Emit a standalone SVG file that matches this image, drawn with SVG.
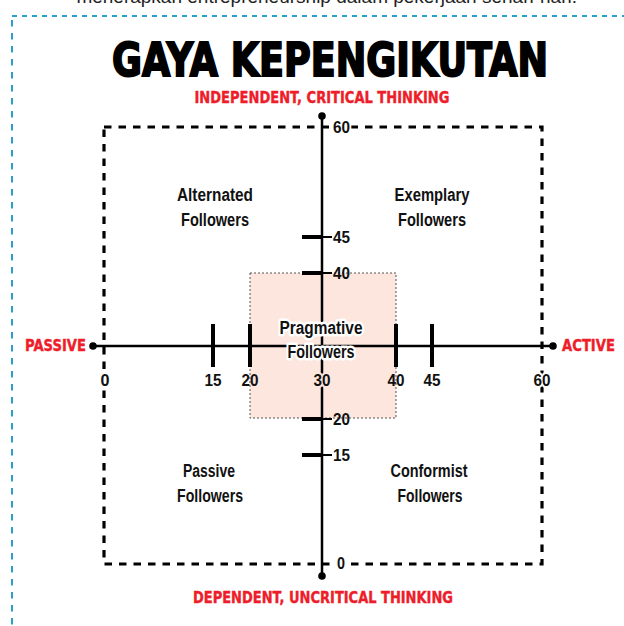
<svg xmlns="http://www.w3.org/2000/svg" width="624" height="626" viewBox="0 0 624 626">
<style>
.lbl{font-family:"Liberation Sans","DejaVu Sans",sans-serif;font-weight:bold;font-size:18px;fill:#111;text-anchor:middle}
.num{font-family:"Liberation Sans","DejaVu Sans",sans-serif;font-weight:bold;font-size:17px;fill:#111}
.red{font-family:"DejaVu Sans","Liberation Sans",sans-serif;font-weight:bold;font-size:15px;fill:#ee1d2a;stroke:#ee1d2a;stroke-width:0.4}
.tick{stroke:#000;stroke-width:4;stroke-linecap:butt}
.axis{stroke:#000;stroke-width:2.5;fill:none}
.halo{stroke:#fff;stroke-width:5;stroke-linejoin:round;paint-order:stroke}
.nh{stroke:#fff;stroke-width:4;stroke-linejoin:round;paint-order:stroke}
</style>
<rect width="624" height="626" fill="#fff"/>
<text x="577" y="3" text-anchor="end" font-family="'Liberation Sans',sans-serif" font-size="19" fill="#222">menerapkan entrepreneurship dalam pekerjaan sehari-hari.</text>
<g id="frame">
<line x1="12" y1="16" x2="624" y2="16" stroke="#2a9fcb" stroke-width="2" stroke-dasharray="5 5"/>
<line x1="12" y1="20" x2="12" y2="626" stroke="#2a9fcb" stroke-width="2" stroke-dasharray="6.5 6.5"/>
</g>
<g id="title">
<text x="330" y="76" text-anchor="middle" textLength="436" lengthAdjust="spacingAndGlyphs" font-family="'DejaVu Sans',sans-serif" font-weight="bold" font-size="46" fill="#000" stroke="#000" stroke-width="2">GAYA KEPENGIKUTAN</text>
</g>
<g id="pragmative-zone">
<rect x="250" y="273" width="146" height="145" fill="#fde6dd" stroke="#555" stroke-width="1" stroke-dasharray="2 2"/>
</g>
<g id="outer-box">
<rect x="104" y="127" width="438" height="437" fill="none" stroke="#000" stroke-width="3.2" stroke-dasharray="7.5 7"/>
</g>
<g id="connectors">
<line class="axis" x1="322" y1="116" x2="322" y2="576"/>
<line class="axis" x1="93" y1="346" x2="553" y2="346"/>
<circle cx="322" cy="116" r="3.8"/>
<circle cx="322" cy="576" r="3.8"/>
<circle cx="93" cy="346" r="3.8"/>
<circle cx="553" cy="346" r="3.8"/>
<line class="tick" x1="213" y1="324" x2="213" y2="367"/>
<line class="tick" x1="250" y1="324" x2="250" y2="367"/>
<line class="tick" x1="396" y1="324" x2="396" y2="367"/>
<line class="tick" x1="432" y1="324" x2="432" y2="367"/>
<line class="tick" x1="302" y1="237" x2="322" y2="237"/>
<line class="tick" x1="302" y1="273" x2="322" y2="273"/>
<line class="tick" x1="302" y1="419" x2="322" y2="419"/>
<line class="tick" x1="302" y1="455" x2="322" y2="455"/>
<g stroke="#000" stroke-width="2">
<line x1="322" y1="237" x2="332" y2="237"/>
<line x1="322" y1="273" x2="332" y2="273"/>
<line x1="322" y1="419" x2="332" y2="419"/>
<line x1="322" y1="455" x2="332" y2="455"/>
</g>
</g>
<g id="y-scale">
<text class="num nh" x="333" y="133" textLength="17" lengthAdjust="spacingAndGlyphs">60</text>
<text class="num" x="333" y="243" textLength="17" lengthAdjust="spacingAndGlyphs">45</text>
<text class="num" x="333" y="279" textLength="17" lengthAdjust="spacingAndGlyphs">40</text>
<text class="num" x="333" y="425" textLength="17" lengthAdjust="spacingAndGlyphs">20</text>
<text class="num" x="333" y="461" textLength="17" lengthAdjust="spacingAndGlyphs">15</text>
<text class="num nh" x="337" y="569" textLength="8" lengthAdjust="spacingAndGlyphs">0</text>
</g>
<g id="x-scale">
<text class="num nh" x="105" y="386" text-anchor="middle" textLength="9" lengthAdjust="spacingAndGlyphs">0</text>
<text class="num" x="213" y="386" text-anchor="middle" textLength="17" lengthAdjust="spacingAndGlyphs">15</text>
<text class="num" x="250" y="386" text-anchor="middle" textLength="17" lengthAdjust="spacingAndGlyphs">20</text>
<text class="num" x="322" y="386" text-anchor="middle" textLength="17" lengthAdjust="spacingAndGlyphs" stroke="#fde6dd" stroke-width="4" paint-order="stroke">30</text>
<text class="num" x="396" y="386" text-anchor="middle" textLength="17" lengthAdjust="spacingAndGlyphs">40</text>
<text class="num" x="432" y="386" text-anchor="middle" textLength="17" lengthAdjust="spacingAndGlyphs">45</text>
<text class="num nh" x="542" y="386" text-anchor="middle" textLength="17" lengthAdjust="spacingAndGlyphs">60</text>
</g>
<g id="top-label"><text class="red" x="322" y="103" text-anchor="middle" textLength="255" lengthAdjust="spacingAndGlyphs">INDEPENDENT, CRITICAL THINKING</text></g>
<g id="bottom-label"><text class="red" x="323" y="603" text-anchor="middle" textLength="260" lengthAdjust="spacingAndGlyphs">DEPENDENT, UNCRITICAL THINKING</text></g>
<g id="passive-label"><text class="red" x="86" y="351" text-anchor="end" textLength="61" lengthAdjust="spacingAndGlyphs">PASSIVE</text></g>
<g id="active-label"><text class="red" x="562" y="351" textLength="53" lengthAdjust="spacingAndGlyphs">ACTIVE</text></g>
<g id="alternated">
<text class="lbl" x="215" y="201" textLength="76" lengthAdjust="spacingAndGlyphs">Alternated</text>
<text class="lbl" x="215" y="226" textLength="68" lengthAdjust="spacingAndGlyphs">Followers</text>
</g>
<g id="exemplary">
<text class="lbl" x="432" y="201" textLength="75" lengthAdjust="spacingAndGlyphs">Exemplary</text>
<text class="lbl" x="432" y="226" textLength="68" lengthAdjust="spacingAndGlyphs">Followers</text>
</g>
<g id="pragmative">
<text class="lbl halo" x="321" y="334" textLength="83" lengthAdjust="spacingAndGlyphs">Pragmative</text>
<text class="lbl halo" x="321" y="358" textLength="67" lengthAdjust="spacingAndGlyphs">Followers</text>
</g>
<g id="passive">
<text class="lbl" x="209" y="477" textLength="52" lengthAdjust="spacingAndGlyphs">Passive</text>
<text class="lbl" x="210" y="502" textLength="66" lengthAdjust="spacingAndGlyphs">Followers</text>
</g>
<g id="conformist">
<text class="lbl" x="429" y="477" textLength="77" lengthAdjust="spacingAndGlyphs">Conformist</text>
<text class="lbl" x="430" y="502" textLength="65" lengthAdjust="spacingAndGlyphs">Followers</text>
</g>
</svg>
